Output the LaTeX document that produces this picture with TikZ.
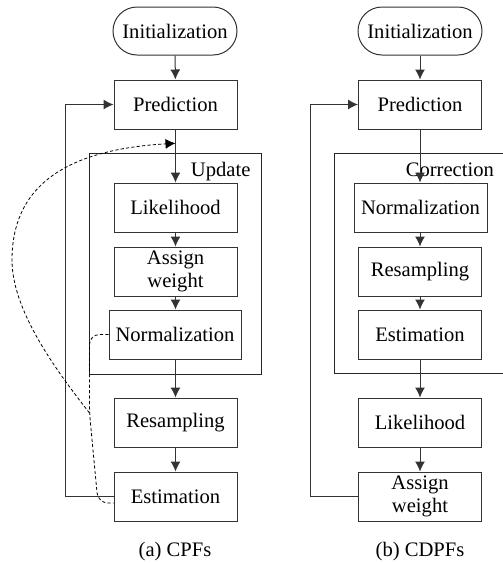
\documentclass[tikz,border=0pt]{standalone}
\usepackage{fontspec}
\setmainfont{Liberation Serif}
\usetikzlibrary{arrows.meta,calc}
\begin{document}
\begin{tikzpicture}[x=0.5pt,y=-0.5pt,
  every node/.style={font=\fontsize{10.3}{11.6}\selectfont},
  blk/.style={draw=black!80, line width=0.5pt, minimum width=61.5pt, minimum height=24.5pt, inner sep=0pt, align=center},
  wideblk/.style={blk, minimum width=66pt},
  startblk/.style={blk, rounded corners=12pt, minimum width=62pt, minimum height=24pt},
  grp/.style={draw=black!85, line width=0.5pt, inner sep=0pt},
  flow/.style={draw=black!80, line width=0.5pt, -{Latex[length=5pt,width=5pt]}},
  dsh/.style={draw=black, line width=0.4pt, dash pattern=on 1.6pt off 1.1pt}]
\useasboundingbox (0,0) rectangle (503,563);

% ---------- (a) CPFs ----------
\node[grp, minimum width=86pt, minimum height=110.5pt] (upd) at (175,263.5) {};
\node[anchor=base east] (updl) at (257.5,176) {Update};
\node[startblk] (ia) at (175,31) {Initialization};
\node[blk] (pa) at (175.5,104.5) {Prediction};
\node[blk] (la) at (175.5,207.5) {Likelihood};
\node[blk] (aa) at (175.5,271.5) {Assign\\weight};
\node[wideblk] (na) at (175,334.5) {Normalization};
\node[blk] (ra) at (175.5,422.5) {Resampling};
\node[blk] (ea) at (175.5,496.5) {Estimation};
\node (capa) at (175,552) {(a) CPFs};

\draw[flow] (ia) -- (pa);
\draw[flow] (pa) -- (la);
\draw[flow] (la) -- (aa);
\draw[flow] (aa.south) -- (aa.south |- na.north);
\draw[flow] (na.south -| ra.north) -- (ra.north);
\draw[flow] (ra) -- (ea);
\draw[flow] (ea.west) -- ++(-48,0) |- (pa.west);

\coordinate (j) at (89.5,413);
\coordinate (ed) at ($(ea.west)+(0,6.5)$);
\coordinate (tgt) at ($(pa.south)!0.26!(la.north)$);
\draw[dsh, rounded corners=5pt] (na.west) -| (j) -- (98,503) -- (ed);
\draw[dsh, -{Latex[length=5pt,width=5pt]}] (j) .. controls (55,369) and (12,310) .. (12,260)
   .. controls (12,190) and (60,150) .. (tgt);

% ---------- (b) CDPFs ----------
\node[grp, minimum width=85.5pt, minimum height=110pt] (cor) at (419.5,263) {};
\node[anchor=base east] (corl) at (501,176) {Correction};
\node[startblk] (ib) at (420,31) {Initialization};
\node[blk] (pb) at (420,104.5) {Prediction};
\node[wideblk, minimum width=66.5pt] (nb) at (420.5,207.5) {Normalization};
\node[blk] (rb) at (420,271.5) {Resampling};
\node[blk] (eb) at (420,334.5) {Estimation};
\node[blk] (lb) at (420,422.5) {Likelihood};
\node[blk] (ab) at (420,496.5) {Assign\\weight};
\node (capb) at (420,552) {(b) CDPFs};

\draw[flow] (ib) -- (pb);
\draw[flow] (pb.south) -- (pb.south |- nb.north);
\draw[flow] (nb.south -| rb.north) -- (rb.north);
\draw[flow] (rb) -- (eb);
\draw[flow] (eb) -- (lb);
\draw[flow] (lb) -- (ab);
\draw[flow] (ab.west) -- ++(-48,0) |- (pb.west);
\end{tikzpicture}
\end{document}
